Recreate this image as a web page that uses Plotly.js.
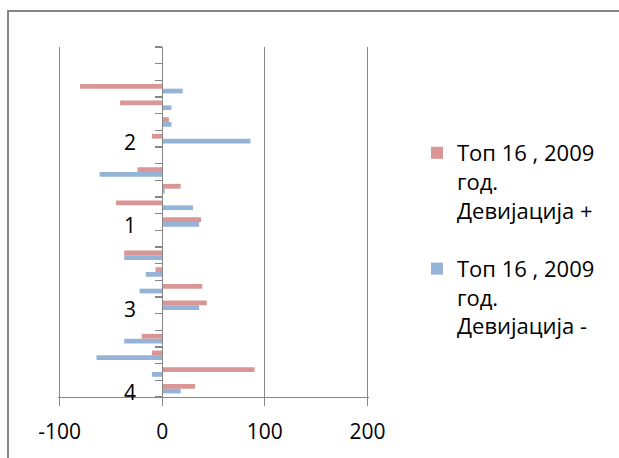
<!DOCTYPE html>
<html>
<head>
<meta charset="utf-8">
<script src="https://cdn.plot.ly/plotly-3.0.1.min.js"></script>
<style>
  html, body { margin: 0; padding: 0; background: #fff; overflow: hidden; }
  #chart { width: 619px; height: 458px; position: absolute; left: 0; top: 0; }
  #frame { position: absolute; left: 7px; top: 10px; width: 700px; height: 600px;
           border-left: 2px solid #868686; border-top: 2px solid #868686; pointer-events: none; }
</style>
</head>
<body>
<div id="chart"></div>
<div id="frame"></div>
<script>
// 21 categories, listed from bottom to top; "" = category without a shown label
var categoryLabels = ["4","","","","","3","","","","","1","","","","","2","","","","",""];
// Series values (null = empty category)
var devPlus  = [32, 90, -10, -20, null, 43.5, 39, -6.5, -37, null, 38, -45, 18, -24, null, -10, 6.5, -41, -80, null, null];
var devMinus = [18, -10, -64, -37, null, 36, -22, -16, -37, null, 36, 30, 2.5, -61, null, 86, 9, 9, 20, null, null];
var seriesNames = ["Топ 16 , 2009<br>год.<br>Девијација +", "Топ 16 , 2009<br>год.<br>Девијација -"];
var xTickVals = [-100, 0, 100, 200];
var xTickText = ["-100", "0", "100", "200"];

var pos = categoryLabels.map(function(_, i){ return i + 1; });
var labVals = [], labText = [];
categoryLabels.forEach(function(l, i){ if (l !== "") { labVals.push(i + 1); labText.push(l); } });
var bounds = [];
for (var i = 0; i <= categoryLabels.length; i++) bounds.push(i + 0.5);

var gray = '#868686';
var font = "'Open Sans', 'Noto Sans', sans-serif";
var xRange = [-101.5, 201.5];

var data = [
  { type: 'bar', orientation: 'h', y: pos, x: devMinus, name: seriesNames[1],
    marker: { color: '#95b3d7' }, legendrank: 2, legendgroup: 'minus', hoverinfo: 'x' },
  { type: 'bar', orientation: 'h', y: pos, x: devPlus, name: seriesNames[0],
    marker: { color: '#d99694' }, legendrank: 1, legendgroup: 'plus', hoverinfo: 'x' }
];

var layout = {
  width: 619, height: 458,
  margin: { l: 58, r: 250, t: 47, b: 61 },
  paper_bgcolor: '#fff', plot_bgcolor: '#fff',
  barmode: 'group', bargap: 0.43, bargroupgap: 0,
  font: { family: font, size: 21, color: '#000' },
  xaxis: {
    range: xRange, tickmode: 'array', tickvals: xTickVals, ticktext: xTickText,
    showgrid: true, gridcolor: gray, gridwidth: 1.3,
    zeroline: false, showline: true, linecolor: gray, linewidth: 1.3,
    ticks: 'outside', ticklen: 8, tickcolor: gray, tickwidth: 1.3,
    ticklabelstandoff: 7,
    tickfont: { size: 21, family: font, color: '#000' },
    anchor: 'y', fixedrange: true
  },
  yaxis: {
    range: [0.5, categoryLabels.length + 0.5],
    anchor: 'free', position: (0 - xRange[0]) / (xRange[1] - xRange[0]),
    tickmode: 'array', tickvals: labVals, ticktext: labText,
    ticks: '', ticklabelstandoff: 22, ticklabelshift: 4,
    showgrid: false, zeroline: false,
    showline: true, linecolor: gray, linewidth: 1.3,
    tickfont: { size: 21, family: font, color: '#000' },
    minor: { tickmode: 'array', tickvals: bounds, ticks: 'outside', ticklen: 7,
             tickcolor: gray, tickwidth: 1.3, showgrid: false },
    fixedrange: true
  },
  legend: {
    xref: 'container', yref: 'container', x: 417/619, y: 1 - 132/458,
    xanchor: 'left', yanchor: 'top',
    traceorder: 'grouped', tracegroupgap: 27, valign: 'top',
    font: { size: 22, family: font, color: '#000' },
    bgcolor: 'rgba(0,0,0,0)'
  },
  showlegend: true
};

Plotly.newPlot('chart', data, layout, { displayModeBar: false, staticPlot: true });
</script>
</body>
</html>
